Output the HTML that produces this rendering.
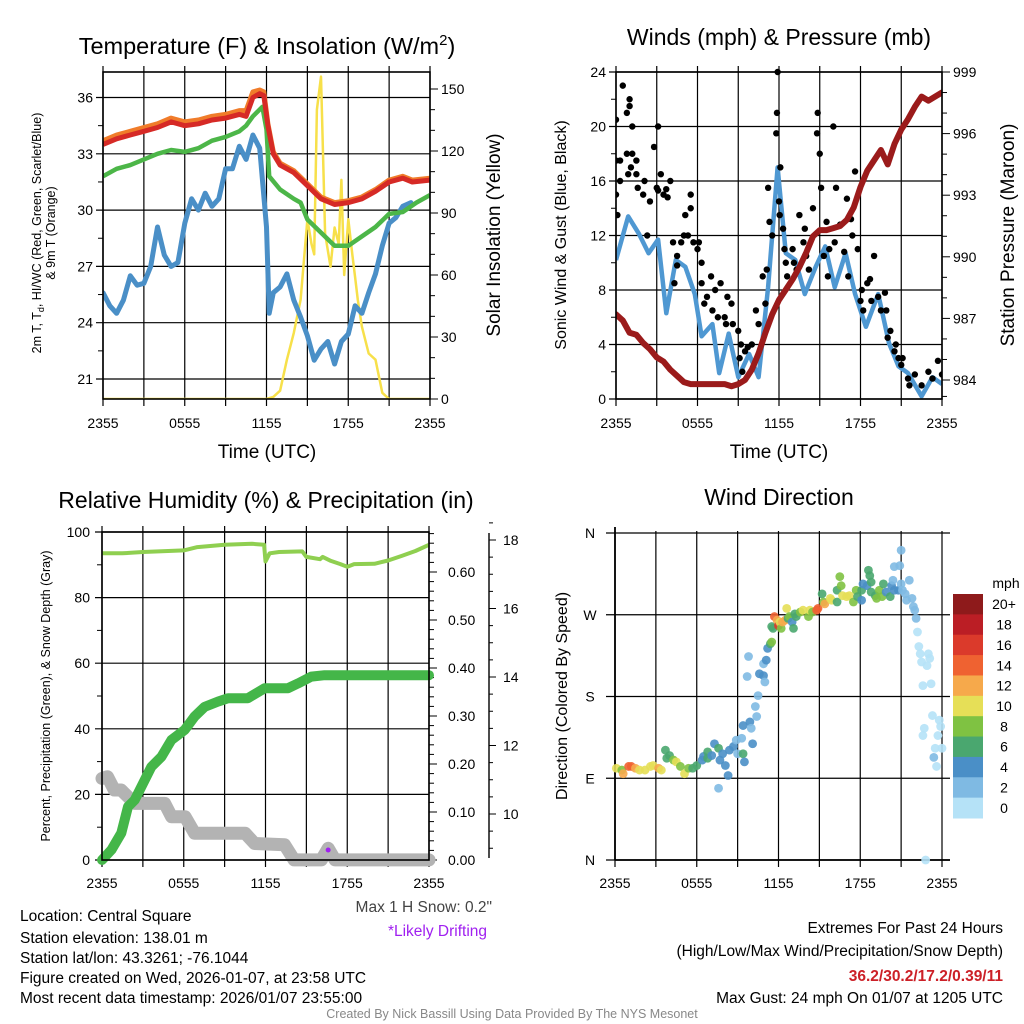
<!DOCTYPE html>
<html><head><meta charset="utf-8">
<style>
html,body{margin:0;padding:0;background:#fff;}
svg{display:block;font-family:"Liberation Sans",sans-serif;}
</style></head>
<body>
<svg id="fig" width="1024" height="1024" viewBox="0 0 1024 1024" xmlns="http://www.w3.org/2000/svg">
<rect x="0" y="0" width="1024" height="1024" fill="#fff"/>
<text x="267" y="54" font-size="23.5" text-anchor="middle">Temperature (F) &amp; Insolation (W/m<tspan font-size="15" dy="-9">2</tspan><tspan dy="9">)</tspan></text>
<text x="779" y="45" font-size="23" text-anchor="middle">Winds (mph) &amp; Pressure (mb)</text>
<text x="266" y="508" font-size="23" text-anchor="middle">Relative Humidity (%) &amp; Precipitation (in)</text>
<text x="779" y="505" font-size="23" text-anchor="middle">Wind Direction</text>

<text x="267" y="458" font-size="19" text-anchor="middle">Time (UTC)</text>
<text x="779" y="458" font-size="19" text-anchor="middle">Time (UTC)</text>

<text transform="translate(41,233) rotate(-90)" font-size="12.5" text-anchor="middle">2m T, T<tspan font-size="9" dy="3">d</tspan><tspan dy="-3">, HI/WC (Red, Green, Scarlet/Blue)</tspan></text>
<text transform="translate(55,233) rotate(-90)" font-size="12.5" text-anchor="middle">&amp; 9m T (Orange)</text>
<text transform="translate(500,235) rotate(-90)" font-size="19" text-anchor="middle">Solar Insolation (Yellow)</text>
<text transform="translate(566,235) rotate(-90)" font-size="16" text-anchor="middle">Sonic Wind &amp; Gust (Blue, Black)</text>
<text transform="translate(1014,235) rotate(-90)" font-size="19" text-anchor="middle">Station Pressure (Maroon)</text>
<text transform="translate(50,696) rotate(-90)" font-size="12.5" text-anchor="middle">Percent, Precipitation (Green), &amp; Snow Depth (Gray)</text>
<text transform="translate(567,696) rotate(-90)" font-size="16" text-anchor="middle">Direction (Colored By Speed)</text>

<g font-size="15.5" fill="#000">
<text x="20" y="921">Location: Central Square</text>
<text x="20" y="943">Station elevation: 138.01 m</text>
<text x="20" y="963">Station lat/lon: 43.3261; -76.1044</text>
<text x="20" y="983">Figure created on Wed, 2026-01-07, at 23:58 UTC</text>
<text x="20" y="1003">Most recent data timestamp: 2026/01/07 23:55:00</text>
<text x="492" y="912" text-anchor="end" fill="#444">Max 1 H Snow: 0.2"</text>
<text x="487" y="936" text-anchor="end" fill="#a020f0">*Likely Drifting</text>
<text x="1003" y="933" text-anchor="end">Extremes For Past 24 Hours</text>
<text x="1003" y="956" text-anchor="end">(High/Low/Max Wind/Precipitation/Snow Depth)</text>
<text x="1003" y="981" text-anchor="end" fill="#cc2027" font-weight="bold">36.2/30.2/17.2/0.39/11</text>
<text x="1003" y="1003" text-anchor="end">Max Gust: 24 mph On 01/07 at 1205 UTC</text>
</g>
<text x="512" y="1018" font-size="12.5" fill="#888" text-anchor="middle">Created By Nick Bassill Using Data Provided By The NYS Mesonet</text>
<g id="plots"></g>
</svg>
<script>
// ---------- data ----------
const timeTickLabels = ['2355','0555','1155','1755','2355'];
// Temperature panel
const tempTimes = [0,1,2,3,4,5,6,7,8,9,10,10.5,11,11.5,11.8,12.1,12.5,13,14,15,16,17,18,19,20,21,22,22.7,24];
const tempValues = [33.5,33.8,34.0,34.2,34.4,34.7,34.5,34.6,34.8,34.9,35.1,35.0,36.0,36.2,36.1,34.5,33.0,32.4,32.0,31.3,30.6,30.3,30.4,30.6,31.0,31.5,31.7,31.5,31.6];
const temp9mValues = [33.7,34.0,34.2,34.4,34.6,34.9,34.7,34.8,35.0,35.1,35.3,35.3,36.3,36.4,36.3,34.6,33.1,32.5,32.1,31.4,30.7,30.4,30.5,30.7,31.1,31.6,31.8,31.6,31.7];
const dewTimes = [0,1,2,3,4,5,6,7,8,9,10,10.5,11,11.7,12,12.2,13,14,14.5,15,16,17,18,19,20,21,22,23,24];
const dewValues = [31.8,32.2,32.4,32.7,33.0,33.2,33.1,33.3,33.7,33.9,34.2,34.5,35.0,35.5,34.3,31.8,31.1,30.6,30.4,29.5,28.8,28.1,28.1,28.6,29.1,29.8,29.9,30.4,30.8];
const wcTimes = [0,0.5,1,1.5,2,2.5,3,3.5,4,4.5,5,5.5,6,6.5,7,7.5,8,8.5,9,9.5,10,10.5,11,11.5,12,12.2,12.5,13,13.5,14,14.5,15,15.5,16,16.5,17,17.5,18,18.5,19,19.5,20,20.5,21,21.5,22,22.6];
const wcValues = [25.6,24.9,24.5,25.2,26.5,26.0,26.1,27.0,29.1,27.6,27.0,27.2,29.3,30.6,30.0,30.9,30.2,30.6,32.2,32.2,33.4,32.7,34.0,33.3,29.1,24.5,25.6,25.9,26.6,25.2,24.3,23.3,22.0,22.6,23.0,21.8,23.0,23.4,24.9,24.5,25.6,26.6,28.1,29.3,29.6,30.2,30.4];
const solarTimes = [0,12,12.5,13,13.5,14,14.5,15,15.3,15.5,15.7,16,16.3,16.7,17,17.3,17.5,17.7,18,18.3,18.5,18.7,19,19.5,20,20.5,21,24];
const solarValues = [0,0,1,4,19,32,48,87,75,70,140,156,80,64,83,75,106,60,87,70,59,48,35,22,19,3,0,0];
// Wind panel
const windTimes = [0,0.9,1.7,2.4,3.1,3.7,4.4,5.1,5.8,6.3,7.1,7.6,8.3,9.0,9.8,10.5,11.2,11.9,12.5,13.2,13.9,14.7,15.4,16.1,16.9,17.6,18.4,19.3,20.1,20.8,21.5,22.5,23.3,24];
const windValues = [10.2,13.4,12.1,10.7,11.7,6.3,10.2,9.7,7.7,4.6,5.5,1.9,4.8,1.6,3.3,1.6,8.2,17.0,10.7,10.2,7.7,9.7,11.2,8.2,10.7,7.7,5.3,7.7,4.1,2.4,1.9,0.2,1.6,1.1];
const gustTimes = [0,0,0,0.1,0.3,0.3,0.5,0.8,0.8,1,1,1.2,0.9,1.1,1.2,1.5,1.5,1.6,2,2.1,2.3,2.5,2.8,3,3.1,3.1,3.3,3.5,3.7,3.8,4,4.2,4.5,4.5,4.3,4.8,5,5.1,5.3,5.5,5.5,5.7,6,6.1,6.3,6.3,6.5,6.7,7,7.1,7.3,7.5,7.7,8,8.1,8.2,8.5,8.6,9,9.1,9.2,9.3,9.5,9.7,10,10.3,10.5,10.8,11,11.1,11.2,11.3,11.5,11.8,11.85,11.9,12,12.05,12.1,12.3,12.4,12.5,12.6,13,13.1,13.3,13.5,13.8,13.9,14,14.2,14.5,14.8,14.85,15,15.1,15.3,15.5,15.6,15.7,16,16.1,16.2,16.5,16.8,17,17.1,17.3,17.4,17.6,17.8,18,18.1,18.2,18.5,18.7,18.8,19,19.3,19.5,19.8,19.9,20,20.2,20.5,20.6,20.8,21,21.1,21.5,21.6,22,22.5,23,23.3,23.7,24];
const gustValues = [20.5,15,17.5,13.5,17.5,16,23,18,21,22,21.5,20,16.5,17,18,17.5,16.5,15.5,15,16,12,14.5,18.5,15.5,15.3,20,16.5,15,15.4,14.8,16,11.5,10.5,9.8,8.5,11.5,12,13.5,12,15,14,11.5,11,11.5,8.5,10,7,7.5,9,6.5,8,6,8.5,6,5.5,7.5,7,5.5,5,3,4,2,3.5,3.8,4,6.5,5.5,9,7,9.5,15.5,13,12,19.5,21,24,14.5,13.5,17,12.5,11,10,9,11,10,9.5,13.5,11.5,12.5,10.5,9.5,14,19.5,21,18,15.5,10.5,13,9,11,20,11.5,15.5,12.8,10.8,14.7,9,13.2,12,16.7,11,7.2,8,6.5,8.5,8.8,7.2,10.5,7.5,6.5,7.8,6.5,4.5,5,3.5,4,3,2.5,3,1.5,1,1.8,1,2,1.5,2.8,1.8];
const presTimes = [0,0.5,1,1.5,2,2.5,3,3.5,4,4.5,5,5.5,6,7,8,8.5,9,9.5,10,10.5,11,11.5,12,12.5,13,13.5,14,14.5,15,15.5,16,16.5,17,17.5,18,18.5,19,19.5,20,20.5,21,21.5,22,22.5,23,23.5,24];
const presValues = [987.2,986.9,986.3,986.2,985.8,985.5,985.1,984.9,984.5,984.2,983.9,983.8,983.8,983.8,983.8,983.7,983.8,984.0,984.5,985.3,986.3,987.2,987.9,988.4,988.9,989.5,990.2,991.0,991.3,991.3,991.4,991.5,991.8,992.4,993.4,994.2,994.7,995.2,994.5,995.5,996.2,996.7,997.3,997.8,997.6,997.8,998.0];
// Humidity panel
const rhTimes = [0,1.5,3,6,7,9,11,11.9,12,12.3,13,14.7,15,16,16.2,16.8,17.5,18,18.5,20,21,22,23,24];
const rhValues = [93.5,93.5,93.9,94.4,95.4,96.1,96.4,96.1,91.0,93.5,93.9,94.1,92.4,91.7,92.4,91.2,90.2,89.4,90.2,90.3,91.3,92.7,94.2,96.1];
const precipTimes = [0,0.69,1.42,1.91,2.4,2.89,3.62,4.36,5.09,6.07,6.8,7.53,8.51,9.25,10.71,11.94,13.65,14.39,15.37,16.34,24];
const precipValues = [0,0.021,0.056,0.111,0.125,0.153,0.194,0.215,0.25,0.271,0.299,0.319,0.33,0.337,0.337,0.358,0.358,0.368,0.382,0.385,0.385];
const snowTimes = [0,0.4,0.9,1.4,2.4,4.6,5.1,6.1,6.8,10.5,11.2,13.4,14.1,16.1,16.6,17.1,24];
const snowValues = [11.04,11.09,10.7,10.7,10.31,10.31,9.92,9.92,9.44,9.44,9.14,9.1,8.66,8.66,9.0,8.66,8.66];
const precipTicks = ['0.00','0.10','0.20','0.30','0.40','0.50','0.60'];
// Direction panel
const dirTimes = [0.1,0.5,0.6,1.0,1.2,1.5,1.8,2.2,2.6,2.8,3.2,3.4,3.7,3.8,4.0,4.3,4.5,4.8,5.1,5.4,5.7,6.0,6.4,6.5,6.8,6.8,7.1,7.3,7.6,7.7,7.9,8.1,8.3,7.6,8.4,8.7,8.9,9.0,9.3,9.4,9.5,9.4,9.7,9.8,9.9,10.0,10.1,10.3,10.4,10.5,10.6,10.9,11.0,10.9,11.1,11.2,11.4,11.5,11.5,11.6,11.7,11.9,12.0,12.1,12.2,12.3,12.5,12.6,12.7,12.8,13.0,13.1,13.2,13.3,13.6,13.8,14.2,14.3,14.5,14.8,14.9,15.2,15.3,15.4,15.8,15.9,16.3,16.3,16.5,16.6,16.7,17.0,17.2,17.5,17.7,17.8,18.1,18.1,18.2,18.5,18.6,18.7,18.8,18.8,19.1,19.2,19.4,19.6,19.7,19.9,20.2,20.3,20.4,20.5,20.5,20.8,20.9,21.0,21.0,21.1,21.3,21.4,21.6,21.8,21.9,22.0,22.1,22.2,22.3,22.4,22.5,22.6,22.9,23.0,23.1,23.2,23.3,22.7,22.6,23.5,23.4,23.6,23.7,23.8,23.9,24.0,22.8];
const dirValues = [101,99,95,103,103,101,99,99,103,104,101,99,121,112,115,110,108,103,95,101,101,104,110,114,119,112,115,128,123,110,117,104,93,79,121,125,132,117,134,117,108,148,202,224,152,145,128,169,158,181,205,203,196,216,220,233,238,240,257,255,268,264,258,262,255,262,264,277,266,268,262,255,271,268,273,275,268,275,273,275,277,293,284,282,288,286,284,297,312,302,291,290,291,284,297,290,286,297,304,302,319,313,306,295,291,288,297,290,304,295,290,302,308,323,297,297,324,341,304,297,293,286,308,288,279,275,266,251,235,227,218,192,214,227,222,194,159,145,137,123,113,103,137,154,147,123,0];
const dirSpeeds = [10,9,12,14,15,12,10,10,10,11,12,10,6,7,6,8,10,9,10,8,7,6,5,4,6,7,4,4,6,4,5,4,4,3,4,4,3,3,3,6,4,4,3,3,4,3,4,3,3,2,4,4,3,3,4,4,6,8,6,7,15,12,17,10,9,13,12,10,6,8,5,6,6,6,8,10,8,10,8,14,15,7,8,12,10,10,7,7,8,8,10,10,10,9,8,6,5,7,4,4,6,6,6,6,7,8,8,9,6,5,6,4,3,3,4,4,3,2,3,3,3,3,3,3,3,3,3,1,1,1,1,1,1,1,1,1,1,1,1,1,2,1,1,1,1,1,0];
const speedLabels = ['20+','18','16','14','12','10','8','6','4','2','0'];
const speedColors = ['#8e1a1b','#bb1e25','#db3a2b','#ef6231','#f6a94b','#e6df57','#7fc242','#4aa76f','#4a8fc7','#7fbae3','#b5e2f7'];

// ---------- helpers ----------
const NS='http://www.w3.org/2000/svg';
const root=document.getElementById('plots');
function el(tag,attrs,parent){const e=document.createElementNS(NS,tag);for(const k in attrs)e.setAttribute(k,attrs[k]);(parent||root).appendChild(e);return e;}
function txt(x,y,s,size,anchor,parent){const t=el('text',{x:x,y:y,'font-size':size,'text-anchor':anchor},parent);t.textContent=s;return t;}
function lin(v0,v1,p0,p1){return v=>p0+(v-v0)/(v1-v0)*(p1-p0);}
function pathD(xs,ys,X,Y){return xs.map((t,i)=>(i?'L':'M')+X(t).toFixed(1)+','+Y(ys[i]).toFixed(1)).join('');}

function timeAxis(g,X,x0,x1,yt,yb,labelY){
  for(let h=0;h<=24;h+=3){
    const x=X(h);
    const gl=el('line',{x1:x,y1:yt-6,x2:x,y2:yb+7,stroke:'#000','stroke-width':1.2},g);
    
    
    if(h%6===0){const t=txt(x,labelY,timeTickLabels[h/6],14,'middle',g);
      
      }
  }
}

// ---------- Panel 1 ----------
(function(){
  const g=el('g',{});
  
  
  const x0=103,x1=430,yt=72,yb=399;
  const X=lin(0,24,x0,x1), Y=lin(21,36,379,97.5), YS=lin(0,150,399,89);
  for(let v=21;v<=36;v+=3){const gl=el('line',{x1:x0-7,y1:Y(v),x2:x1,y2:Y(v),stroke:'#000','stroke-width':1.2},g);
    
    const t=txt(x0-10,Y(v)+5,String(v),14,'end',g);}
  for(let v=22.5;v<=36;v+=3){el('line',{x1:x0-5,y1:Y(v),x2:x0,y2:Y(v),stroke:'#000'},g);}
  for(let v=0;v<=150;v+=10){el('line',{x1:x1,y1:YS(v),x2:x1+(v%30?5:8),y2:YS(v),stroke:'#000'},g);
    if(v%30===0){const t=txt(x1+11,YS(v)+5,String(v),14,'start',g);}}
  timeAxis(g,X,x0,x1,yt,yb,428);
  const clip=el('clipPath',{id:'c1'},g);el('rect',{x:x0,y:yt,width:x1-x0,height:yb-yt},clip);
  const d=el('g',{'clip-path':'url(#c1)'},g);
  let p;
  p=el('path',{d:pathD(solarTimes,solarValues,X,YS),fill:'none',stroke:'#f7e04a','stroke-width':2.5,'stroke-linejoin':'round'},d);
  
  p=el('path',{d:pathD(wcTimes,wcValues,X,Y),fill:'none',stroke:'#4a8fc7','stroke-width':5,'stroke-linejoin':'round','stroke-linecap':'round'},d);
  
  p=el('path',{d:pathD(dewTimes,dewValues,X,Y),fill:'none',stroke:'#4cb648','stroke-width':4.5,'stroke-linejoin':'round'},d);
  
  p=el('path',{d:pathD(tempTimes,temp9mValues,X,Y),fill:'none',stroke:'#f07c2a','stroke-width':5,'stroke-linejoin':'round'},d);
  
  p=el('path',{d:pathD(tempTimes,tempValues,X,Y),fill:'none',stroke:'#d62a26','stroke-width':5,'stroke-linejoin':'round'},d);
  
  el('rect',{x:x0,y:yt,width:x1-x0,height:yb-yt,fill:'none',stroke:'#000','stroke-width':1.6},g);
})();

// ---------- Panel 2 ----------
(function(){
  const g=el('g',{});
  
  
  const x0=616,x1=942,yt=72,yb=399;
  const X=lin(0,24,x0,x1), Y=lin(0,24,399,72), YP=lin(984,999,380,72);
  for(let v=0;v<=24;v+=4){const gl=el('line',{x1:x0-7,y1:Y(v),x2:x1,y2:Y(v),stroke:'#000','stroke-width':1.2},g);
    
    const t=txt(x0-10,Y(v)+5,String(v),14,'end',g);}
  for(let v=2;v<=24;v+=4){el('line',{x1:x0-5,y1:Y(v),x2:x0,y2:Y(v),stroke:'#000'},g);}
  for(let v=984;v<=999;v+=1){el('line',{x1:x1,y1:YP(v),x2:x1+((v-984)%3?5:8),y2:YP(v),stroke:'#000'},g);
    if((v-984)%3===0){const t=txt(x1+11,YP(v)+5,String(v),14,'start',g);}}
  el('line',{x1:x1,y1:YP(983.2),x2:x1+5,y2:YP(983.2),stroke:'#000'},g);
  timeAxis(g,X,x0,x1,yt,yb,428);
  const clip=el('clipPath',{id:'c2'},g);el('rect',{x:x0,y:yt-4,width:x1-x0,height:yb-yt+4},clip);
  const d=el('g',{'clip-path':'url(#c2)'},g);
  let p=el('path',{d:pathD(windTimes,windValues,X,Y),fill:'none',stroke:'#4f98d2','stroke-width':4.5,'stroke-linejoin':'round'},d);
  
  gustTimes.forEach((t,i)=>{const c=el('circle',{cx:X(t),cy:Y(gustValues[i]),r:3.2,fill:'#000'},d);
    
    });
  p=el('path',{d:pathD(presTimes,presValues,X,YP),fill:'none',stroke:'#9b1b1b','stroke-width':6,'stroke-linejoin':'round','stroke-linecap':'round'},d);
  
  el('rect',{x:x0,y:yt,width:x1-x0,height:yb-yt,fill:'none',stroke:'#000','stroke-width':1.6},g);
})();

// ---------- Panel 3 ----------
(function(){
  const g=el('g',{});
  
  
  const x0=102,x1=429,yt=532,yb=860;
  const X=lin(0,24,x0,x1), Y=lin(0,100,860,532), YR=lin(0,0.6,860,572), YS=lin(10,18,814,540);
  for(let v=0;v<=100;v+=20){const gl=el('line',{x1:x0-7,y1:Y(v),x2:x1,y2:Y(v),stroke:'#000','stroke-width':1.2},g);
    
    const t=txt(x0-12,Y(v)+5,String(v),14,'end',g);}
  for(let v=10;v<=90;v+=20){el('line',{x1:x0-5,y1:Y(v),x2:x0,y2:Y(v),stroke:'#000'},g);}
  for(let i=0;i<=34;i++){const v=i*0.02;if(YR(v)<yt)break;el('line',{x1:x1,y1:YR(v),x2:x1+(i%5?5:8),y2:YR(v),stroke:'#000'},g);}
  precipTicks.forEach((s,i)=>{const t=txt(x1+19,YR(i*0.1)+5,s,14,'start',g);});
  el('line',{x1:489,y1:533,x2:489,y2:858,stroke:'#000','stroke-width':1.4},g);
  for(let v=9;v<=18.5;v+=0.5){el('line',{x1:489,y1:YS(v),x2:489+(v%2===0?7:4),y2:YS(v),stroke:'#000'},g);}
  for(let v=10;v<=18;v+=2){const t=txt(503,YS(v)+5,String(v),14,'start',g);}
  timeAxis(g,X,x0,x1,yt,yb,888);
  let p=el('path',{d:pathD(snowTimes,snowValues,X,YS),fill:'none',stroke:'#b3b3b3','stroke-width':13,'stroke-linejoin':'round','stroke-linecap':'round'},g);
  
  const dr=el('circle',{cx:X(16.6),cy:YS(8.95),r:2.5,fill:'#a020f0'},g);
  
  p=el('path',{d:pathD(precipTimes,precipValues,X,YR),fill:'none',stroke:'#44b649','stroke-width':10,'stroke-linejoin':'round','stroke-linecap':'round'},g);
  
  p=el('path',{d:pathD(rhTimes,rhValues,X,Y),fill:'none',stroke:'#8fcf50','stroke-width':4,'stroke-linejoin':'round'},g);
  
  el('rect',{x:x0,y:yt,width:x1-x0,height:yb-yt,fill:'none',stroke:'#000','stroke-width':1.6},g);
})();

// ---------- Panel 4 ----------
(function(){
  const g=el('g',{});
  
  
  const x0=615,x1=942,yt=533,yb=860;
  const X=lin(0,24,x0,x1), Y=lin(0,360,860,533);
  const dl=['N','E','S','W','N'];
  for(let i=0;i<=4;i++){const v=i*90;const gl=el('line',{x1:x0-9,y1:Y(v),x2:x1+8,y2:Y(v),stroke:'#000','stroke-width':1.2},g);
    
    const t=txt(590,Y(v)+5,dl[i],14,'middle',g);}
  timeAxis(g,X,x0,x1,yt+4,yb,888);
  el('line',{x1:x0,y1:yt-6,x2:x0,y2:yb,stroke:'#000','stroke-width':1.8},g);
  el('line',{x1:x0,y1:yb,x2:x1+8,y2:yb,stroke:'#000','stroke-width':1.8},g);
  function col(s){const v=(s===undefined||isNaN(s))?0:s;let b=Math.max(0,Math.min(10,Math.floor(v/2)));return speedColors[10-b];}
  dirTimes.forEach((t,i)=>{const c=el('circle',{cx:X(t),cy:Y(dirValues[i]),r:4.4,fill:col(dirSpeeds[i]),'fill-opacity':0.9},g);
    
    });
  const cb=el('g',{},g);
  
  
  const bh=224/11;
  speedLabels.forEach((s,i)=>{const r=el('rect',{x:953,y:594+i*bh,width:30,height:bh+0.5,fill:speedColors[i]},cb);
    
    const t=txt(1004,594+i*bh+bh/2+5,s,14,'middle',cb);});
  const m=txt(1006,588,'mph',14,'middle',cb);
})();
</script>
</body></html>
